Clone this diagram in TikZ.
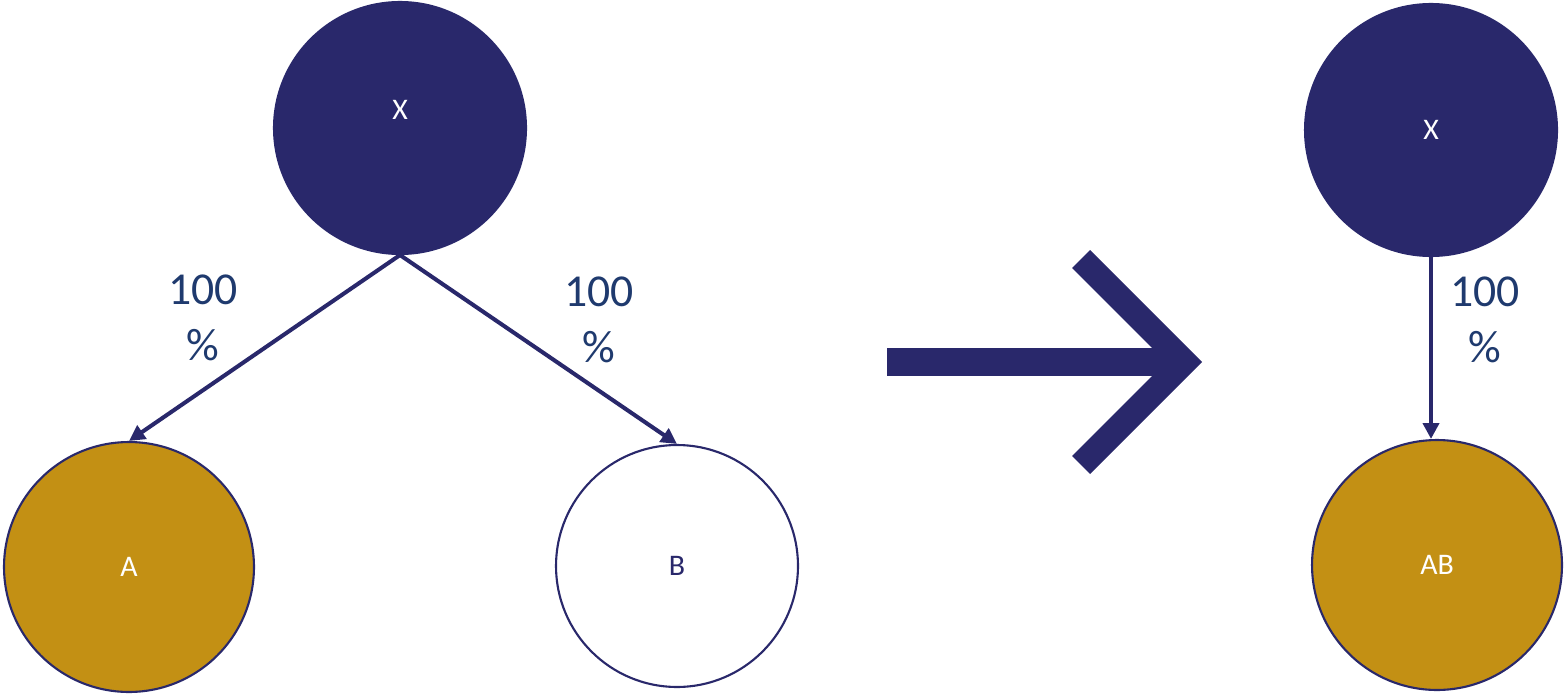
\documentclass[tikz,border=0pt]{standalone}
\usepackage{fontspec}
\setmainfont{Carlito}
\usetikzlibrary{arrows.meta}
\definecolor{navy}{HTML}{29286B}
\definecolor{gold}{HTML}{C39014}
\definecolor{labelblue}{HTML}{1F3A6E}
\tikzset{
  bubble/.style={circle, draw=navy, line width=1.2pt, minimum size=5.0cm, inner sep=0pt, font=\fontsize{17}{20}\selectfont},
  darkbubble/.style={bubble, fill=navy, text=white},
  goldbubble/.style={bubble, fill=gold, text=white},
  whitebubble/.style={bubble, fill=white, text=navy},
  bubbletext/.style={text=white, font=\fontsize{17}{20}\selectfont},
  link/.style={draw=navy, line width=2.3pt, -{Triangle[length=9pt,width=9pt]}},
  pct/.style={text=labelblue, align=center, font=\fontsize{26}{32}\selectfont}
}
\begin{document}
\begin{tikzpicture}[x=0.02cm,y=-0.02cm]
\useasboundingbox (0,0) rectangle (1565,693);
\node[darkbubble, minimum size=5.04cm] (X) at (400,128) {};
\node[bubbletext] (Xt) at (400,110) {X};
\node[goldbubble] (A) at (129,567) {A};
\node[whitebubble, minimum size=4.84cm] (B) at (677,566) {B};
\node[darkbubble, minimum size=5.04cm] (X2) at (1431,130) {X};
\node[goldbubble] (AB) at (1437,565) {AB};
\draw[link] (X.south) -- (A.north);
\draw[link] (X.south) -- (B.north);
\draw[link] (X2.south) -- (X2.south |- AB.north);
\node[pct] (p1) at (203,318) {100\\\%};
\node[pct] (p2) at (599,320) {100\\\%};
\node[pct] (p3) at (1485,320) {100\\\%};
\fill[navy] (887,348) rectangle (1170,376);
\fill[navy] (1072,268) -- (1090,250) -- (1202,362) -- (1090,474) -- (1072,456) -- (1166,362) -- cycle;
\end{tikzpicture}
\end{document}
